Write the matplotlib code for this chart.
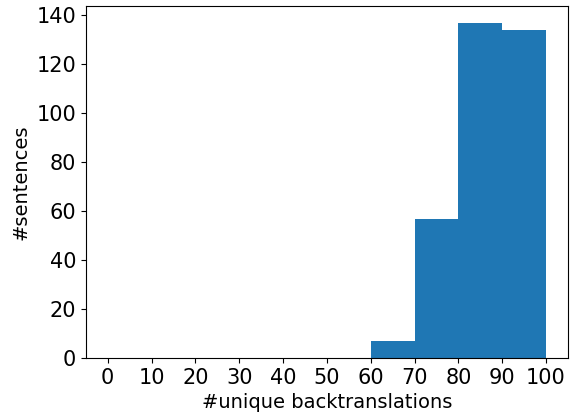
import numpy as np
import matplotlib
matplotlib.use('Agg')
import matplotlib.pyplot as plt

# histogram bins and counts
bin_edges = [0, 10, 20, 30, 40, 50, 60, 70, 80, 90, 100]
counts = [0, 0, 0, 0, 0, 0, 7, 57, 137, 134]
x_ticks = [0, 10, 20, 30, 40, 50, 60, 70, 80, 90, 100]

plt.rcParams['font.size'] = 15

fig = plt.figure(figsize=(5.76, 4.16), dpi=100)
ax = fig.add_axes([0.149, 0.139, 0.837, 0.847])

ax.hist(bin_edges[:-1], bins=bin_edges, weights=counts, color='#1f77b4')
ax.set_xticks(x_ticks)
ax.set_xlabel('#unique backtranslations', fontsize=14)
ax.set_ylabel('#sentences', fontsize=14)

fig.savefig('out.png', dpi=100)
